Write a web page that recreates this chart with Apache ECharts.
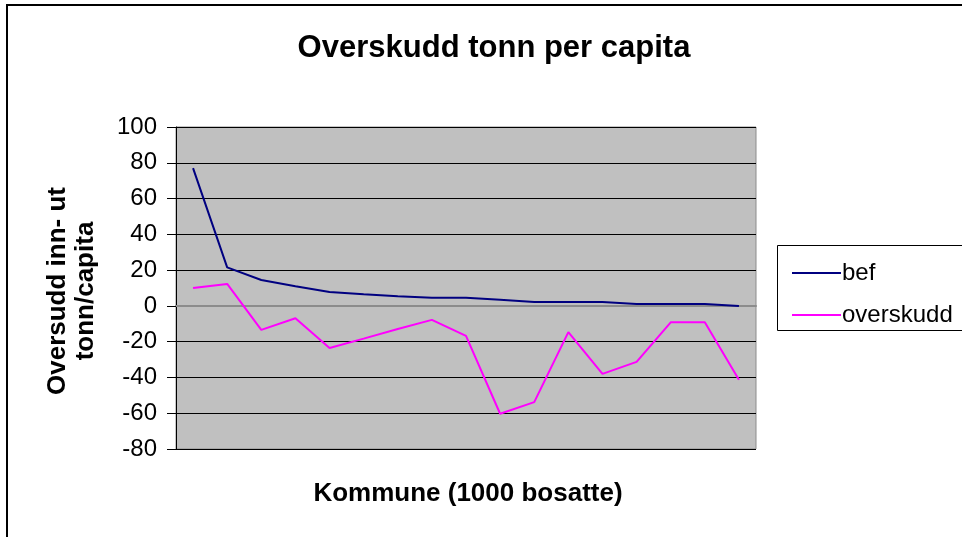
<!DOCTYPE html>
<html>
<head>
<meta charset="utf-8">
<script src="https://cdn.jsdelivr.net/npm/echarts@6/dist/echarts.min.js"></script>
<style>
  html, body { margin: 0; padding: 0; background: #fff; }
  #chart { width: 962px; height: 537px; }
</style>
</head>
<body>
<div id="chart"></div>
<script>
// kommuner, sortert etter antall bosatte
const categories = ['1', '2', '3', '4', '5', '6', '7', '8', '9', '10', '11', '12', '13', '14', '15', '16', '17'];
const bef = [77, 21.5, 14.5, 11, 7.8, 6.5, 5.4, 4.5, 4.5, 3.4, 2.2, 2.2, 2.2, 1.1, 1.1, 1.1, 0];
const overskudd = [10, 12.3, -13.4, -6.9, -23.5, -18.3, -12.9, -7.8, -16.8, -60.3, -53.8, -14.7, -38, -31.3, -9.2, -9.2, -41.3];
const yTicks = { min: -80, max: 100, interval: 20 };

const chart = echarts.init(document.getElementById('chart'));
const font = 'Liberation Sans, Arial, sans-serif';

chart.setOption({
  animation: false,
  title: {
    text: 'Overskudd tonn per capita',
    left: 489,
    top: 28,
    textAlign: 'center',
    textStyle: { fontFamily: font, fontSize: 31, fontWeight: 'bold', color: '#000' }
  },
  grid: {
    left: 176,
    top: 127,
    right: 206,
    bottom: 88,
    show: true,
    backgroundColor: '#c0c0c0',
    borderColor: '#8c8c8c',
    borderWidth: 1
  },
  legend: {
    left: 787,
    top: 256,
    orient: 'vertical',
    itemWidth: 49,
    itemHeight: 2,
    itemGap: 18,
    icon: 'rect',
    textStyle: { fontFamily: font, fontSize: 24, lineHeight: 24, color: '#000', padding: [0, 0, 0, -4] },
    data: ['bef', 'overskudd']
  },
  xAxis: {
    type: 'category',
    data: categories,
    boundaryGap: true,
    axisLine: { show: true, lineStyle: { color: '#8c8c8c', width: 2 } },
    axisTick: { show: false },
    axisLabel: { show: false },
    splitLine: { show: false }
  },
  yAxis: {
    type: 'value',
    min: yTicks.min,
    max: yTicks.max,
    interval: yTicks.interval,
    axisLine: { show: true, onZero: false, lineStyle: { color: '#000', width: 1 } },
    axisTick: { show: true, inside: false, length: 9, lineStyle: { color: '#000' } },
    axisLabel: { fontFamily: font, fontSize: 24, color: '#000', margin: 19 },
    splitLine: { show: true, lineStyle: { color: '#000', width: 1 } }
  },
  graphic: [
    {
      type: 'rect',
      shape: { x: 7, y: 5, width: 1000, height: 600 },
      style: { fill: 'none', stroke: '#000', lineWidth: 2 },
      silent: true
    },
    {
      type: 'rect',
      shape: { x: 777.5, y: 245.5, width: 300, height: 85 },
      style: { fill: '#fff', stroke: '#000', lineWidth: 1 },
      z: -1,
      silent: true
    },
    {
      type: 'text',
      x: 58,
      y: 291,
      rotation: Math.PI / 2,
      style: {
        text: 'Oversudd inn- ut',
        fontFamily: font, fontSize: 26, fontWeight: 'bold', fill: '#000',
        align: 'center', verticalAlign: 'middle'
      }
    },
    {
      type: 'text',
      x: 86,
      y: 291,
      rotation: Math.PI / 2,
      style: {
        text: 'tonn/capita',
        fontFamily: font, fontSize: 26, fontWeight: 'bold', fill: '#000',
        align: 'center', verticalAlign: 'middle'
      }
    },
    {
      type: 'text',
      x: 468,
      y: 494,
      style: {
        text: 'Kommune (1000 bosatte)',
        fontFamily: font, fontSize: 26, fontWeight: 'bold', fill: '#000',
        align: 'center', verticalAlign: 'middle'
      }
    }
  ],
  series: [
    {
      name: 'bef',
      type: 'line',
      data: bef,
      symbol: 'none',
      lineStyle: { color: '#000080', width: 2 },
      itemStyle: { color: '#000080' }
    },
    {
      name: 'overskudd',
      type: 'line',
      data: overskudd,
      symbol: 'none',
      lineStyle: { color: '#ff00ff', width: 2 },
      itemStyle: { color: '#ff00ff' }
    }
  ]
});
</script>
</body>
</html>
